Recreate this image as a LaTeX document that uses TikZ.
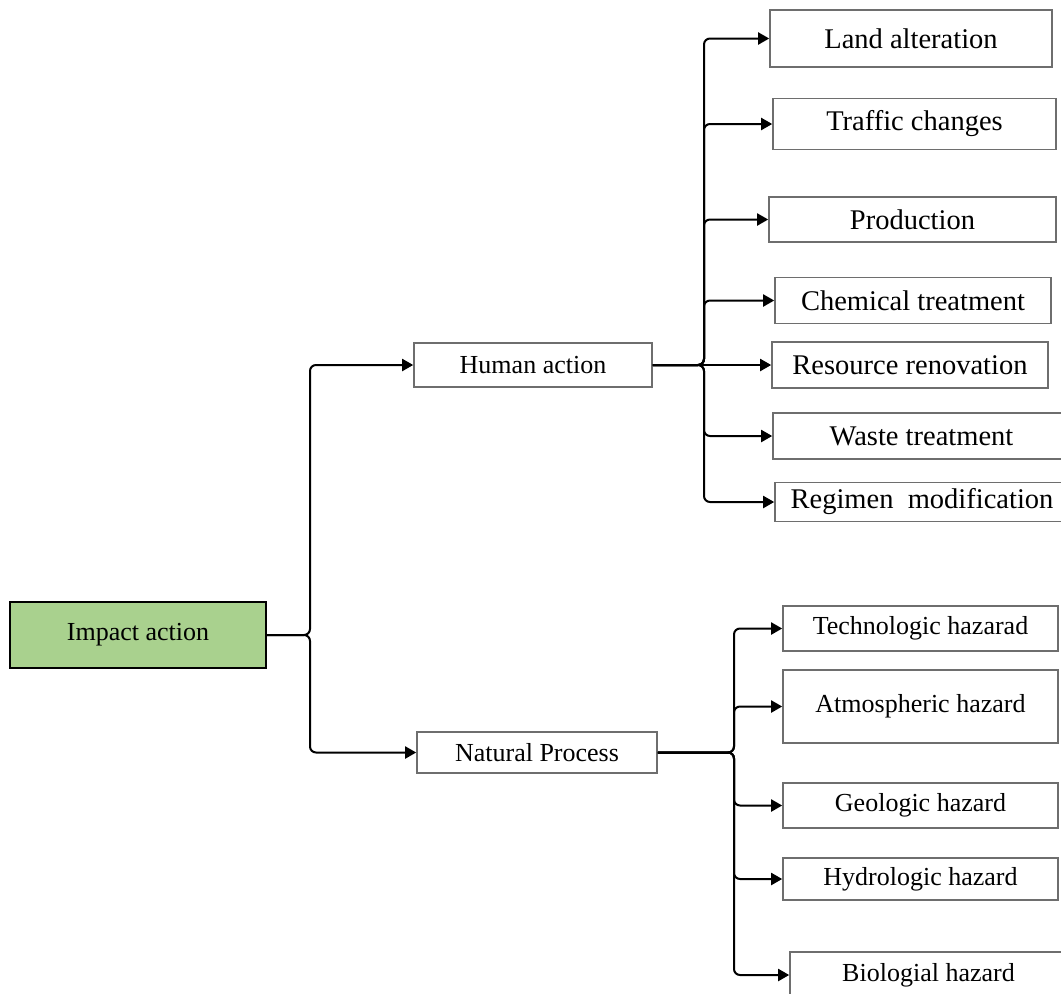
\documentclass[tikz,border=0pt]{standalone}
\usepackage{fontspec}
\setmainfont{Liberation Serif}
\usetikzlibrary{arrows.meta}
\definecolor{impactgreen}{HTML}{A9D18E}
\definecolor{boxgray}{HTML}{6E6E6E}
\begin{document}
\begin{tikzpicture}[x=1pt,y=-1pt,
  box/.style={draw=boxgray, line width=1.6pt, fill=white, inner sep=0pt,
    align=center, font=\fontsize{26}{30}\selectfont},
  bigbox/.style={box, font=\fontsize{28.5}{32}\selectfont},
  rootbox/.style={box, draw=black, line width=2pt, fill=impactgreen},
  conn/.style={draw=black, line width=2pt, rounded corners=6pt,
    -{Triangle[length=11pt,width=12pt]}},
]
\useasboundingbox (0,0) rectangle (1061,994);
\clip (0,0) rectangle (1061,994);

% root and the two main branches
\node[rootbox, minimum width=256pt, minimum height=66pt] (imp) at (138,635) {Impact action};
\node[box, minimum width=238pt, minimum height=44pt] (hum) at (533,365) {Human action};
\node[box, minimum width=240pt, minimum height=41pt] (nat) at (537,752.5) {Natural Process};

% human action outcomes
\node[bigbox, minimum width=282pt, minimum height=57pt] (h1) at (911,38.5) {Land alteration};
\node[bigbox, minimum width=283pt, minimum height=51pt] (h2) at (914.5,124) {Traffic changes};
\node[bigbox, minimum width=287pt, minimum height=45pt] (h3) at (912.5,219.5) {Production};
\node[bigbox, minimum width=276pt, minimum height=46pt] (h4) at (913,300.5) {Chemical treatment};
\node[bigbox, minimum width=276pt, minimum height=46pt] (h5) at (910,365) {Resource renovation};
\node[bigbox, minimum width=297pt, minimum height=46pt] (h6) at (921.5,436) {Waste treatment};
\node[bigbox, minimum width=294pt, minimum height=39pt] (h7) at (922,502) {Regimen\ \ modification};

% natural process hazards
\node[box, minimum width=275pt, minimum height=45pt] (n1) at (920.5,628.5) {Technologic hazarad};
\node[box, minimum width=275pt, minimum height=73pt] (n2) at (920.5,706.5) {Atmospheric hazard};
\node[box, minimum width=275pt, minimum height=45pt] (n3) at (920.5,805.5) {Geologic hazard};
\node[box, minimum width=275pt, minimum height=42pt] (n4) at (920.5,879) {Hydrologic hazard};
\node[box, minimum width=277pt, minimum height=46pt] (n5) at (928.5,975) {Biologial hazard};

% branching points of the brackets
\coordinate (rj) at (310,635);
\coordinate (hj) at (704,365);
\coordinate (nj) at (734,752.5);

% connectors
\draw[conn] (imp.east) -- (rj) |- (hum.west);
\draw[conn] (imp.east) -- (rj) |- (nat.west);

\foreach \t in {h1,h2,h3,h4,h6,h7}
  \draw[conn] (hum.east) -- (hj) |- (\t.west);
\draw[conn] (hum.east) -- (h5.west);

\foreach \t in {n1,n2,n3,n4,n5}
  \draw[conn] (nat.east) -- (nj) |- (\t.west);
\end{tikzpicture}
\end{document}
